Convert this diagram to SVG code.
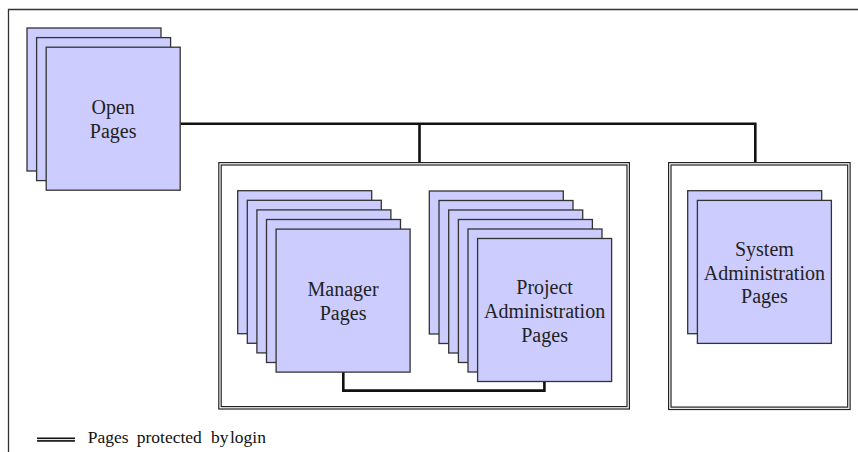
<svg xmlns="http://www.w3.org/2000/svg" width="858" height="452" viewBox="0 0 858 452">
  <style>
    .page { fill: #ccccff; stroke: #333333; stroke-width: 1.3; }
    .lbl { font-family: 'Liberation Serif', 'DejaVu Serif', serif; font-size: 20px; fill: #222222; text-anchor: middle; }
    .wire { fill: none; stroke: #111111; stroke-width: 2.6; }
    .dbl-out { fill: none; stroke: #222222; stroke-width: 3.6; }
    .dbl-in { fill: none; stroke: #ffffff; stroke-width: 1.2; }
    .legend { font-family: 'Liberation Serif', 'DejaVu Serif', serif; font-size: 17.5px; fill: #111111; }
  </style>
  <defs>
    <rect id="sheet" class="page" width="134" height="143"/>
  </defs>

  <rect width="858" height="452" fill="#ffffff"/>

  <!-- outer frame -->
  <path d="M8.5 452 V9.5 H858" fill="none" stroke="#333333" stroke-width="1.3"/>

  <!-- login-protected areas (double border) -->
  <g id="protected-project">
    <rect class="dbl-out" x="220" y="163.8" width="408.2" height="244"/>
    <rect class="dbl-in" x="220" y="163.8" width="408.2" height="244"/>
  </g>
  <g id="protected-system">
    <rect class="dbl-out" x="669.8" y="163.8" width="179.1" height="244.5"/>
    <rect class="dbl-in" x="669.8" y="163.8" width="179.1" height="244.5"/>
  </g>

  <!-- connectors -->
  <g id="connectors">
    <path class="wire" d="M180.5 123.8 H755.3 V162"/>
    <path class="wire" d="M419.5 123.8 V162"/>
    <path class="wire" d="M343.3 371.8 V390.6 H544.4 V381"/>
  </g>

  <g id="open-pages">
    <use href="#sheet" x="27" y="28"/>
    <use href="#sheet" x="36.6" y="37.6"/>
    <use href="#sheet" x="46.2" y="47.2"/>
    <text class="lbl" x="113.2" y="113.6">Open</text>
    <text class="lbl" x="113.2" y="137.8">Pages</text>
  </g>

  <g id="manager-pages">
    <use href="#sheet" x="237.7" y="190.7"/>
    <use href="#sheet" x="247.3" y="200.3"/>
    <use href="#sheet" x="256.9" y="209.9"/>
    <use href="#sheet" x="266.5" y="219.5"/>
    <use href="#sheet" x="276.1" y="229.1"/>
    <text class="lbl" x="343.1" y="295.5">Manager</text>
    <text class="lbl" x="343.1" y="319.5">Pages</text>
  </g>

  <g id="project-administration-pages">
    <use href="#sheet" x="429.3" y="191"/>
    <use href="#sheet" x="439" y="200.5"/>
    <use href="#sheet" x="448.7" y="210"/>
    <use href="#sheet" x="458.4" y="219.5"/>
    <use href="#sheet" x="468" y="229"/>
    <use href="#sheet" x="477.6" y="238.5"/>
    <text class="lbl" x="544.6" y="294">Project</text>
    <text class="lbl" x="544.6" y="318">Administration</text>
    <text class="lbl" x="544.6" y="342">Pages</text>
  </g>

  <g id="system-administration-pages">
    <use href="#sheet" x="687.7" y="190.7"/>
    <use href="#sheet" x="697.4" y="200.4"/>
    <text class="lbl" x="764.4" y="255.7">System</text>
    <text class="lbl" x="764.4" y="279.5">Administration</text>
    <text class="lbl" x="764.4" y="303.3">Pages</text>
  </g>

  <!-- legend -->
  <g id="legend">
    <line x1="37" y1="439.6" x2="75" y2="439.6" stroke="#111111" stroke-width="4.4"/>
    <line x1="36" y1="439.6" x2="76" y2="439.6" stroke="#ffffff" stroke-width="1"/>
    <text class="legend" y="443.3"><tspan x="87.7">Pages</tspan><tspan x="136.7">protected</tspan><tspan x="211">by</tspan><tspan x="230">login</tspan></text>
  </g>
</svg>
